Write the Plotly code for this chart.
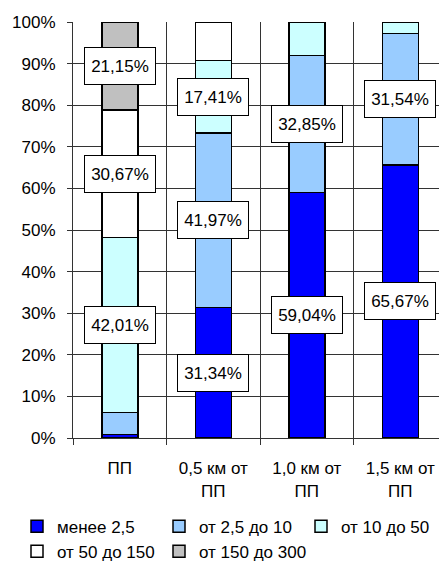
import plotly.graph_objects as go

categories = ["ПП", "0,5 км от<br>ПП", "1,0 км от<br>ПП", "1,5 км от<br>ПП"]
series_names = ["менее 2,5", "от 2,5 до 10", "от 10 до 50", "от 50 до 150", "от 150 до 300"]
s_lt_2_5 = [0.90, 31.34, 59.04, 65.67]
s_2_5_10 = [5.27, 41.97, 32.85, 31.54]
s_10_50 = [42.01, 17.41, 8.11, 2.79]
s_50_150 = [30.67, 9.28, 0.0, 0.0]
s_150_300 = [21.15, 0.0, 0.0, 0.0]
series_values = [s_lt_2_5, s_2_5_10, s_10_50, s_50_150, s_150_300]
colors = ["#0000FF", "#99CCFF", "#CCFFFF", "#FFFFFF", "#C0C0C0"]
label_threshold = 10.0

FONT = "Liberation Sans, Arial, sans-serif"
fig = go.Figure()
for name, vals, col in zip(series_names, series_values, colors):
    fig.add_trace(go.Bar(
        x=categories, y=vals, name=name,
        marker=dict(color=col, line=dict(color="#000000", width=1.5)),
        width=0.385,
    ))

annotations = []
for ci, cat in enumerate(categories):
    base = 0.0
    for vals in series_values:
        v = vals[ci]
        if v >= label_threshold:
            annotations.append(dict(
                x=cat, y=base + v / 2, xref="x", yref="y",
                text=f"{v:.2f}%".replace(".", ","),
                showarrow=False, bgcolor="#FFFFFF", bordercolor="#000000",
                borderwidth=1, width=68, height=34,
                font=dict(family=FONT, size=17, color="#000000"),
            ))
        base += v

fig.update_layout(
    barmode="stack",
    width=439, height=565,
    margin=dict(l=73, r=0, t=22, b=127, autoexpand=False),
    paper_bgcolor="#FFFFFF", plot_bgcolor="#FFFFFF",
    font=dict(family=FONT, size=17, color="#000000"),
    annotations=annotations,
    showlegend=True,
    legend=dict(
        orientation="h", xref="paper", yref="paper",
        x=-0.153, y=-0.17, xanchor="left", yanchor="top",
        entrywidth=97, entrywidthmode="pixels", itemwidth=30,
        font=dict(family=FONT, size=17, color="#000000"),
        traceorder="normal", tracegroupgap=0,
    ),
)
fig.update_xaxes(
    type="category", range=[-0.5, 3.414], tickson="boundaries",
    showgrid=True, gridcolor="#333333", gridwidth=1,
    showline=True, linecolor="#333333", linewidth=1,
    ticks="outside", ticklen=6, tickcolor="#333333",
    ticklabelstandoff=15, fixedrange=True,
)
fig.update_yaxes(
    range=[0, 100], dtick=10, ticksuffix="%",
    showgrid=True, gridcolor="#333333", gridwidth=1,
    showline=True, linecolor="#333333", linewidth=1,
    ticks="outside", ticklen=5, tickcolor="#333333",
    ticklabelstandoff=8, zeroline=False, fixedrange=True,
)
fig.write_html("out.html")
